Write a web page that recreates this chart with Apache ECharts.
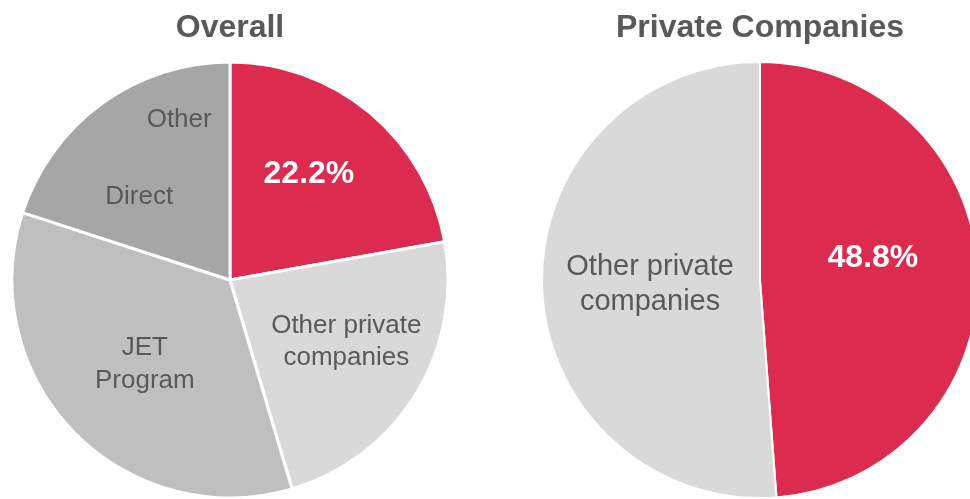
<!DOCTYPE html>
<html>
<head>
<meta charset="utf-8">
<title>Overall vs Private Companies</title>
<script src="https://cdn.jsdelivr.net/npm/echarts@6/dist/echarts.min.js"></script>
<style>
  html, body { margin: 0; padding: 0; background: #ffffff; }
  #chart { width: 970px; height: 499px; }
</style>
</head>
<body>
<div id="chart"></div>
<script>
// Share of placements, in percent
const overallCategories = ['Private companies (featured)', 'Other private companies', 'JET Program', 'Other Direct'];
const overallValues = [22.2, 23.2, 34.6, 20.0];

const privateCategories = ['Featured private companies', 'Other private companies'];
const privateValues = [48.8, 51.2];

const titles = ['Overall', 'Private Companies'];

const RED = '#DD2A4F';
const TEXT = '#595959';
const FONT = '"Liberation Sans", Arial, sans-serif';

// Label offsets (px) from the default inside position of each slice
const overallShift = [[7, -20], [21, 3], [-5, 6], [-5, -31]];
const privateShift = [[1, -18], [2, 0]];

const chart = echarts.init(document.getElementById('chart'), null, { renderer: 'canvas' });

const overallLabels = [
  { color: '#ffffff', fontWeight: 'bold', fontSize: 32, formatter: p => p.value.toFixed(1) + '%' },
  { color: TEXT, fontSize: 26, lineHeight: 32, formatter: 'Other private\ncompanies' },
  { color: TEXT, fontSize: 26, lineHeight: 33, formatter: 'JET\nProgram' },
  {
    color: TEXT, fontSize: 26,
    formatter: '{o|Other}\n{d|Direct}',
    rich: {
      o: { fontSize: 26, color: TEXT, fontFamily: FONT, lineHeight: 77, padding: [0, 0, 0, 40] },
      d: { fontSize: 26, color: TEXT, fontFamily: FONT, lineHeight: 77, padding: [0, 40, 0, 0] }
    }
  }
];
const overallColors = [RED, '#D9D9D9', '#BFBFBF', '#A6A6A6'];

const privateLabels = [
  { color: '#ffffff', fontWeight: 'bold', fontSize: 32, formatter: p => p.value.toFixed(1) + '%' },
  { color: TEXT, fontSize: 29, lineHeight: 35, formatter: 'Other private\ncompanies' }
];
const privateColors = [RED, '#D9D9D9'];

function buildData(cats, vals, colors, labels) {
  return cats.map((c, i) => ({
    name: c,
    value: vals[i],
    itemStyle: { color: colors[i] },
    label: Object.assign({ show: true, position: 'inside', fontFamily: FONT, align: 'center' }, labels[i])
  }));
}

chart.setOption({
  animation: false,
  backgroundColor: '#ffffff',
  title: [
    {
      text: titles[0], left: 225, top: 7, textAlign: 'center',
      textStyle: { color: TEXT, fontSize: 32, fontWeight: 'bold', fontFamily: FONT }
    },
    {
      text: titles[1], left: 755, top: 7, textAlign: 'center',
      textStyle: { color: TEXT, fontSize: 32, fontWeight: 'bold', fontFamily: FONT }
    }
  ],
  series: [
    {
      type: 'pie',
      center: [230, 280],
      radius: [0, 218],
      startAngle: 90,
      clockwise: true,
      silent: true,
      itemStyle: { borderColor: '#ffffff', borderWidth: 3 },
      labelLine: { show: false },
      labelLayout: p => ({ dx: overallShift[p.dataIndex][0], dy: overallShift[p.dataIndex][1] }),
      data: buildData(overallCategories, overallValues, overallColors, overallLabels)
    },
    {
      type: 'pie',
      center: [760, 280],
      radius: [0, 218],
      startAngle: 90,
      clockwise: true,
      silent: true,
      itemStyle: { borderColor: '#ffffff', borderWidth: 2 },
      labelLine: { show: false },
      labelLayout: p => ({ dx: privateShift[p.dataIndex][0], dy: privateShift[p.dataIndex][1] }),
      data: buildData(privateCategories, privateValues, privateColors, privateLabels)
    }
  ]
});
</script>
</body>
</html>
